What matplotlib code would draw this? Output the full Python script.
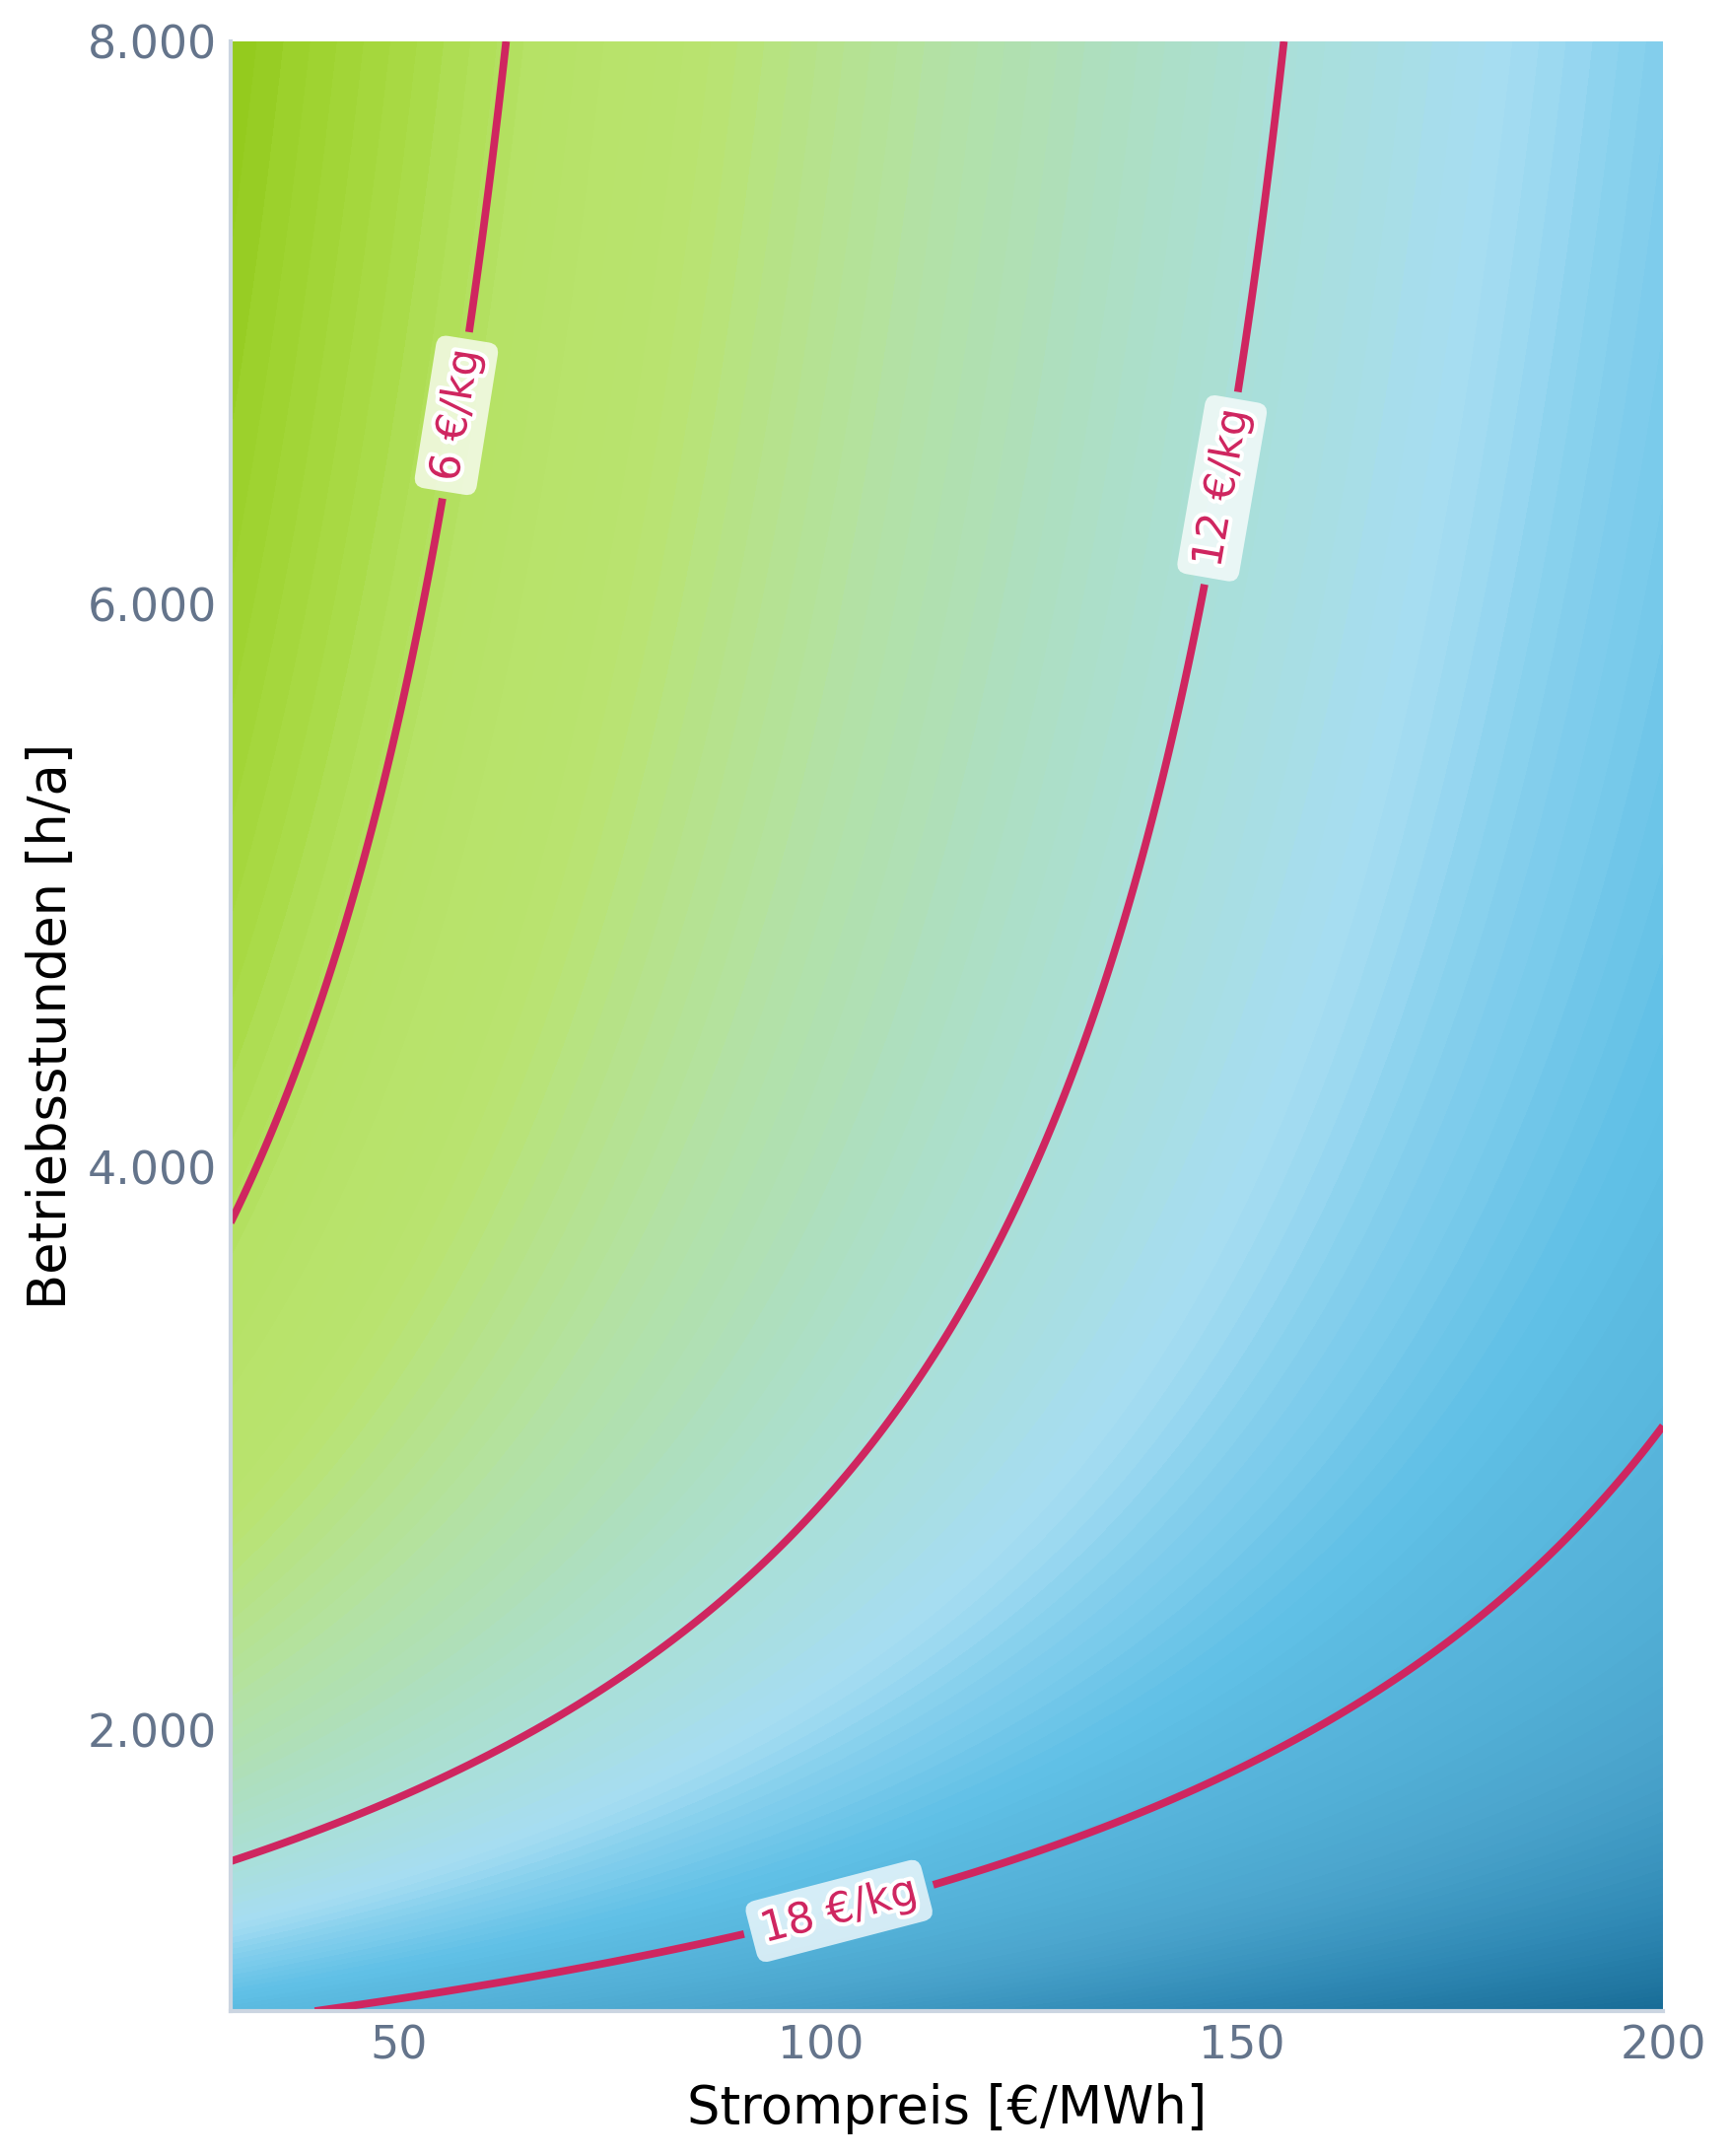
import numpy as np
import matplotlib
matplotlib.use("Agg")
import matplotlib.pyplot as plt
from matplotlib.colors import LinearSegmentedColormap
from matplotlib.ticker import FuncFormatter
import matplotlib.patheffects as pe

# axis ranges
strompreis = np.linspace(30, 200, 400)          # €/MWh
betriebsstunden = np.linspace(1000, 8000, 400)  # h/a

# cost model: LCOH = fix / h + verbrauch * price
fixkosten = 15400.0      # €/kg * h/a
verbrauch = 0.065        # MWh/kg

contour_levels = [6, 12, 18]
label_positions = [(57, 6670), (148, 6410), (102, 1380)]

# colour stops (€/kg, colour)
stop_values = [3.9, 5.0, 6.2, 7.5, 9.0, 10.5, 12.0, 13.7, 15.0, 16.5, 18.0, 21.0, 24.5, 28.3]
stop_colors = ['#94cb1e', '#a6d83e', '#b6e266', '#b9e36f', '#b4e29c', '#aedfbc', '#aadfd8',
               '#a6ddf2', '#80cdec', '#60c0e6', '#58b6dc', '#4aa4cc', '#2f88b4', '#186c96']

line_color = '#cf2660'

P, H = np.meshgrid(strompreis, betriebsstunden)
Z = fixkosten / H + verbrauch * P

vmin, vmax = stop_values[0], stop_values[-1]
pos = [(v - vmin) / (vmax - vmin) for v in stop_values]
cmap = LinearSegmentedColormap.from_list('lcoh', list(zip(pos, stop_colors)))

fig = plt.figure(figsize=(8.775, 10.935), dpi=200)
ax = fig.add_axes([0.1333, 0.0672, 0.828, 0.9136])

ax.contourf(P, H, Z, levels=np.linspace(Z.min(), Z.max(), 120), cmap=cmap, vmin=vmin, vmax=vmax)
cs = ax.contour(P, H, Z, levels=contour_levels, colors=line_color, linewidths=2.8)
labels = ax.clabel(cs, fmt=lambda v: f"{v:.0f} €/kg", fontsize=15.5, inline=True,
                   inline_spacing=18, manual=label_positions)
for t in labels:
    t.set_color(line_color)
    t.set_path_effects([pe.withStroke(linewidth=3, foreground='white')])
    t.set_bbox(dict(boxstyle='round,pad=0.25', fc='white', ec='none', alpha=0.75))

ax.set_xlim(30, 200)
ax.set_ylim(1000, 8000)
ax.set_xticks([50, 100, 150, 200])
ax.set_yticks([2000, 4000, 6000, 8000])
ax.yaxis.set_major_formatter(FuncFormatter(lambda v, _: f"{v:,.0f}".replace(",", ".")))
ax.tick_params(length=0, labelsize=16.5, colors='#64748b', pad=5)

for s in ['top', 'right']:
    ax.spines[s].set_visible(False)
for s in ['left', 'bottom']:
    ax.spines[s].set_color('#cbd5e1')
    ax.spines[s].set_linewidth(1.5)

ax.set_xlabel("Strompreis [€/MWh]", fontsize=19, color='black', labelpad=5)
ax.set_ylabel("Betriebsstunden [h/a]", fontsize=19, color='black', labelpad=4)

fig.savefig("out.png", dpi=200)
